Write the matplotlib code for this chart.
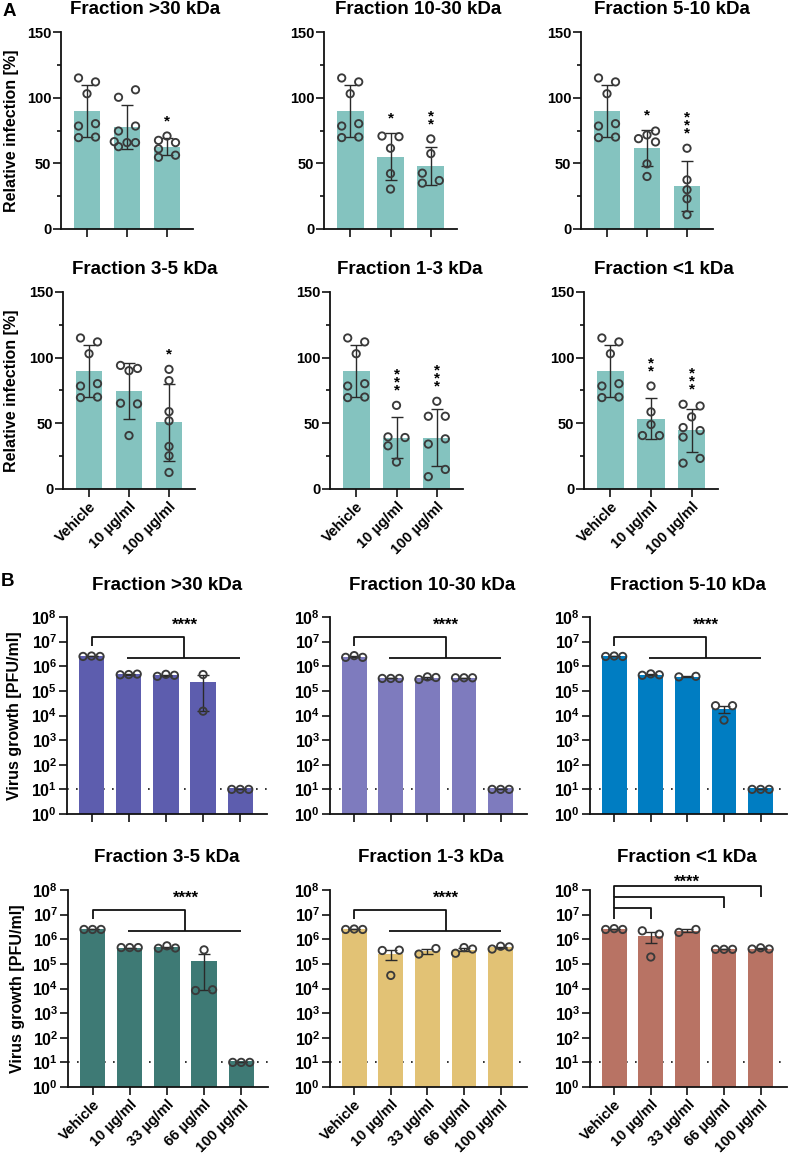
import numpy as np
import matplotlib
matplotlib.use("Agg")
import matplotlib.pyplot as plt

plt.rcParams['font.family'] = ['Liberation Sans', 'DejaVu Sans']
plt.rcParams['font.weight'] = 'bold'
plt.rcParams['mathtext.fontset'] = 'custom'
plt.rcParams['mathtext.rm'] = 'Liberation Sans:bold'
plt.rcParams['mathtext.bf'] = 'Liberation Sans:bold'
plt.rcParams['mathtext.it'] = 'Liberation Sans:bold:italic'

# ---------------- data: panel A (relative infection, %) ----------------
groups_a = ['Vehicle', '10 µg/ml', '100 µg/ml']
titles_a = ['Fraction >30 kDa', 'Fraction 10-30 kDa', 'Fraction 5-10 kDa',
            'Fraction 3-5 kDa', 'Fraction 1-3 kDa', 'Fraction <1 kDa']
vehicle_a = [115, 112, 103, 78.4, 80.2, 69.6, 70.0]
treat_a = [
    [[100.3, 106, 74.6, 78.4, 62.7, 65.8, 65.8, 66.5], [67.5, 65.8, 70.8, 54.6, 56.2, 61.0]],
    [[70.8, 70.3, 61.5, 42.2, 30.4], [68.6, 57.4, 42.5, 34.9, 36.9]],
    [[68.8, 66.3, 71.6, 74.6, 49.6, 40.0], [61.5, 37.4, 29.9, 23.0, 10.9]],
    [[94.1, 91.8, 90.1, 65.3, 64.8, 40.7], [91.1, 82.5, 58.9, 51.9, 32.4, 25.3, 12.6]],
    [[63.7, 39.7, 39.2, 32.9, 20.5], [66.8, 55.4, 55.4, 34.2, 38.2, 9.4, 14.9]],
    [[78.4, 58.7, 49.1, 40.7, 40.7], [64.5, 63.2, 54.9, 46.8, 44.5, 39.5, 19.7, 23.3]],
]
stars_a = [['', '*'], ['*', '**'], ['*', '***'], ['', '*'], ['***', '***'], ['**', '***']]

# ---------------- data: panel B (virus growth, PFU/ml) ----------------
groups_b = ['Vehicle', '10 µg/ml', '33 µg/ml', '66 µg/ml', '100 µg/ml']
titles_b = titles_a
colors_b = ['#5D5DAE', '#7E7BBE', '#007DC2', '#3E7A75', '#E2C275', '#B87364']
values_b = [
    [[2.5e6, 2.5e6, 2.6e6], [4.5e5, 4.8e5, 4.6e5], [3.9e5, 4.3e5, 4.7e5], [4.6e5, 1.5e4], [10, 10, 10]],
    [[2.3e6, 2.3e6, 2.7e6], [3.2e5, 3.2e5, 3.2e5], [2.9e5, 3.5e5, 3.7e5], [3.4e5, 3.4e5, 3.4e5], [10, 10, 10]],
    [[2.5e6, 2.5e6, 2.6e6], [4.3e5, 4.5e5, 4.9e5], [3.7e5, 3.9e5], [2.5e4, 2.5e4, 6.5e3], [10, 10, 10]],
    [[2.5e6, 2.5e6, 2.5e6], [4.6e5, 4.6e5, 4.6e5], [4.3e5, 4.4e5, 5.4e5], [8.3e3, 8.9e3, 3.7e5], [10, 10, 10]],
    [[2.5e6, 2.5e6, 2.6e6], [3.5e5, 3.6e5, 3.4e4], [2.5e5, 4.2e5], [2.7e5, 4.0e5, 4.6e5], [4.0e5, 4.9e5, 5.2e5]],
    [[2.5e6, 2.5e6, 2.7e6], [2.2e6, 1.6e6, 1.9e5], [1.9e6, 2.5e6], [3.9e5, 3.9e5, 3.9e5], [4.0e5, 4.0e5, 4.5e5]],
]
detection_limit = 10

W, H = 792, 1160
fig = plt.figure(figsize=(W / 100, H / 100), dpi=100)

TEAL = '#84C3BF'
EDGE = '#3A3A3A'
DOT_D = 8.5  # marker spacing in pixels


def px_axes(x0, top, x1, bottom):
    return fig.add_axes([x0 / W, 1 - bottom / H, (x1 - x0) / W, (bottom - top) / H])


def swarm(vals, ppu_x, ppu_y, log=False, d=DOT_D):
    # simple column-scatter layout: close points are spread sideways
    y = np.log10(vals) if log else np.asarray(vals, float)
    ypx = y * ppu_y
    order = np.argsort(ypx, kind='stable')
    clusters, cur = [], [order[0]]
    for a, b in zip(order[:-1], order[1:]):
        if ypx[b] - ypx[a] < d:
            cur.append(b)
        else:
            clusters.append(cur)
            cur = [b]
    clusters.append(cur)
    off = np.zeros(len(vals))
    placed = [c[0] for c in clusters if len(c) == 1]
    cands = [-d, d, 0, -1.5 * d, 1.5 * d]
    for c in clusters:
        if len(c) == 1:
            continue
        for i in sorted(c):
            best, bestdist = cands[0], -1
            for cx in cands:
                dist = min((np.hypot(cx - off[j], ypx[i] - ypx[j]) for j in placed), default=np.inf)
                if dist >= 0.95 * d:
                    best = cx
                    break
                if dist > bestdist:
                    best, bestdist = cx, dist
            off[i] = best
            placed.append(i)
    return off / ppu_x


def style_axes(ax, labelsize=10):
    for s in ['top', 'right']:
        ax.spines[s].set_visible(False)
    for s in ['left', 'bottom']:
        ax.spines[s].set_linewidth(1.3)
        ax.spines[s].set_color('#111111')
    ax.tick_params(axis='both', which='major', length=5.5, width=1.2, color='#111111',
                   labelsize=labelsize, pad=1.5)
    ax.tick_params(axis='y', which='minor', length=3, width=1.2, color='#111111')


def draw_panel_a(ax, idx, show_x, width_px):
    data = [vehicle_a] + treat_a[idx]
    x = np.arange(len(data))
    ax.set_xlim(-0.65, 2.65)
    ax.set_ylim(0, 150)
    ppu_x = width_px / 3.3
    ppu_y = 197 / 150
    means = [np.mean(d) for d in data]
    sds = [np.std(d, ddof=1) for d in data]
    ax.bar(x, means, width=0.67, color=TEAL, zorder=1)
    ax.errorbar(x, means, yerr=sds, fmt='none', ecolor='#2A2A2A', elinewidth=1.0,
                capsize=4.3, capthick=1.0, zorder=2)
    for i, d in enumerate(data):
        off = swarm(d, ppu_x, ppu_y)
        ax.scatter(x[i] + off, d, s=28, facecolors='none', edgecolors=EDGE,
                   linewidths=1.35, zorder=3)
    for i, st in enumerate(stars_a[idx]):
        if not st:
            continue
        top = max(max(data[i + 1]), means[i + 1] + sds[i + 1])
        ax.annotate('\n'.join(st), xy=(x[i + 1], top), xytext=(0, 7.5),
                    textcoords='offset points', ha='center', va='baseline',
                    fontsize=11, fontweight='bold', linespacing=0.47)
    ax.set_yticks([0, 50, 100, 150])
    ax.set_yticks([25, 75, 125], minor=True)
    ax.set_xticks(x)
    style_axes(ax, 10.5)
    ax.tick_params(axis='x', length=6)
    if show_x:
        ax.set_xticklabels(groups_a, rotation=45, ha='right', va='top',
                           rotation_mode='anchor', fontsize=10.5)
    else:
        ax.set_xticklabels([])


def draw_panel_b(ax, idx, show_x, width_px):
    data = values_b[idx]
    x = np.arange(len(data))
    ax.set_yscale('log')
    ax.set_xlim(-0.66, 4.72)
    ax.set_ylim(1, 1e8)
    ppu_x = width_px / 5.38
    ppu_y = 197 / 8
    means = np.array([np.mean(d) for d in data])
    sems = np.array([np.std(d, ddof=1) / np.sqrt(len(d)) for d in data])
    ax.axhline(detection_limit, color='#111111', lw=1.2, ls=(0, (1, 4.4)), zorder=0)
    ax.bar(x, means, width=0.68, bottom=1, color=colors_b[idx], zorder=1)
    ax.errorbar(x, means, yerr=sems, fmt='none', ecolor='#2A2A2A', elinewidth=1.0,
                capsize=4.3, capthick=1.0, zorder=2)
    for i, d in enumerate(data):
        off = swarm(d, ppu_x, ppu_y, log=True)
        ax.scatter(x[i] + off, d, s=28, facecolors='none', edgecolors=EDGE,
                   linewidths=1.35, zorder=3)
    lk = dict(color='#111111', lw=1.3, clip_on=False, solid_capstyle='butt')
    if idx < 5:
        ax.plot([0, 0, 2.5, 2.5], [10 ** 6.81, 10 ** 7.19, 10 ** 7.19, 10 ** 6.35], **lk)
        ax.plot([0.95, 4.0], [10 ** 6.35] * 2, **lk)
        star_x, star_y = 2.5, 10 ** 7.86
    else:
        for xr, yt in [(1, 7.28), (3, 7.73), (4, 8.16)]:
            ax.plot([0, 0, xr, xr], [10 ** (yt - 0.45), 10 ** yt, 10 ** yt, 10 ** (yt - 0.45)], **lk)
        star_x, star_y = 2.0, 10 ** 8.5
    ax.annotate('****', xy=(star_x, star_y), xytext=(0, -6.8), textcoords='offset points',
                ha='center', va='baseline', fontsize=12, fontweight='bold',
                annotation_clip=False)
    ax.set_yticks([10.0 ** k for k in range(9)])
    ax.set_yticklabels([r'$\mathbf{10^{%d}}$' % k for k in range(9)])
    ax.yaxis.set_minor_locator(matplotlib.ticker.NullLocator())
    ax.set_xticks(x)
    style_axes(ax, 11.5)
    ax.tick_params(axis='x', length=6)
    if show_x:
        ax.set_xticklabels(groups_b, rotation=45, ha='right', va='top',
                           rotation_mode='anchor', fontsize=10.5)
    else:
        ax.set_xticklabels([])


# layout (pixels)
rows_a = [(32, 229, [(61, 193), (324, 457), (581, 713)]),
          (292, 489, [(63, 195), (330, 463), (584, 718)])]
title_a = [(145, 9), (418, 9), (672, 9), (145, 270), (410, 270), (664, 270)]
rows_b = [(617, 814, [(67, 267), (330, 527), (590, 787)]),
          (890, 1087, [(68, 268), (330, 527), (590, 787)])]
title_b = [(167, 585), (432, 585), (688, 585), (167, 857), (431, 857), (687, 857)]

k = 0
for r, (top, bot, cols) in enumerate(rows_a):
    for (x0, x1) in cols:
        ax = px_axes(x0, top, x1, bot)
        draw_panel_a(ax, k, r == 1, x1 - x0)
        tx, ty = title_a[k]
        fig.text(tx / W, 1 - ty / H, titles_a[k], ha='center', va='center',
                 fontsize=13.5, fontweight='bold')
        k += 1
    fig.text(12 / W, 1 - (top + bot) / 2 / H, 'Relative infection [%]', rotation=90,
             ha='center', va='center', fontsize=11.5, fontweight='bold')

k = 0
for r, (top, bot, cols) in enumerate(rows_b):
    for (x0, x1) in cols:
        ax = px_axes(x0, top, x1, bot)
        draw_panel_b(ax, k, r == 1, x1 - x0)
        tx, ty = title_b[k]
        fig.text(tx / W, 1 - ty / H, titles_b[k], ha='center', va='center',
                 fontsize=13.5, fontweight='bold')
        k += 1
    fig.text((15 + 3 * r) / W, 1 - (top + bot) / 2 / H, 'Virus growth [PFU/ml]', rotation=90,
             ha='center', va='center', fontsize=11.5, fontweight='bold')

fig.text(9 / W, 1 - 11 / H, 'A', ha='center', va='center', fontsize=13.5, fontweight='bold')
fig.text(8 / W, 1 - 582 / H, 'B', ha='center', va='center', fontsize=13.5, fontweight='bold')

fig.savefig('out.png', dpi=100)
